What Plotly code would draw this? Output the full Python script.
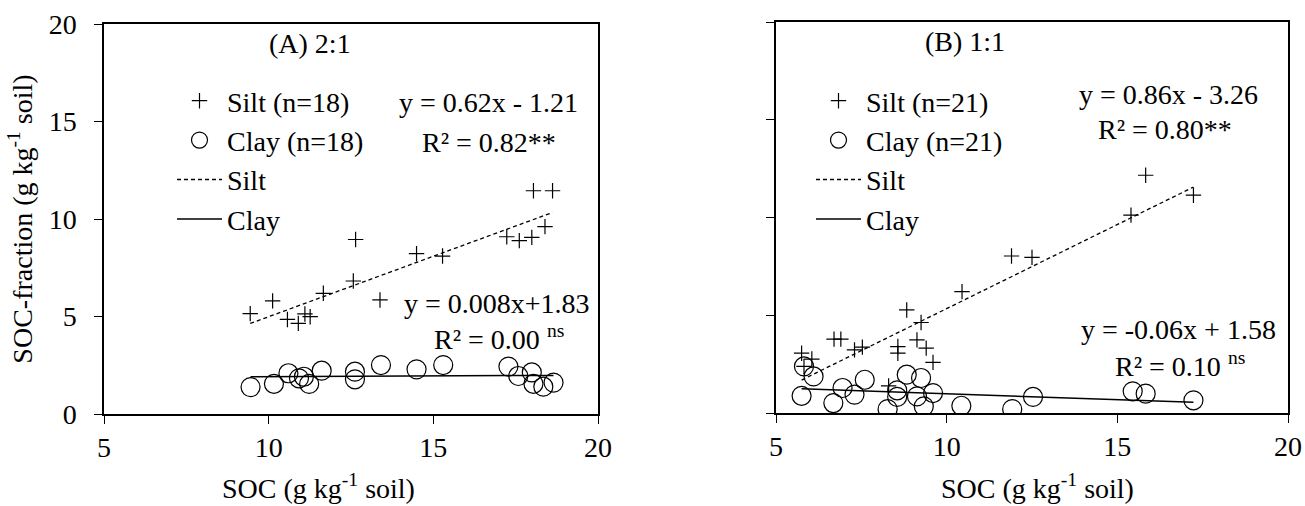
import plotly.graph_objects as go

# ---------------- data ----------------
# Panel A (2:1)
a_silt_x = [9.44, 10.12, 10.57, 10.90, 11.10, 11.26, 11.66, 12.57, 12.64, 13.38, 14.49, 15.28, 17.23, 17.61, 17.99, 18.39, 18.04, 18.62]
a_silt_y = [5.15, 5.80, 4.85, 4.65, 5.13, 4.99, 6.19, 6.82, 8.95, 5.85, 8.22, 8.10, 9.09, 8.89, 9.06, 9.61, 11.45, 11.45]
a_clay_x = [9.45, 10.16, 10.60, 10.92, 11.07, 11.23, 11.61, 12.62, 12.62, 13.41, 14.49, 15.30, 17.28, 17.58, 17.99, 18.04, 18.34, 18.65]
a_clay_y = [1.38, 1.55, 2.09, 1.83, 1.91, 1.54, 2.22, 2.17, 1.78, 2.51, 2.29, 2.51, 2.43, 1.95, 2.13, 1.55, 1.40, 1.61]

# Panel B (1:1)
b_silt_x = [5.75, 6.05, 5.82, 6.70, 6.90, 7.30, 7.53, 8.57, 8.57, 8.30, 8.83, 9.25, 9.13, 9.40, 9.60, 10.45, 11.90, 12.50, 15.40, 15.83, 17.23]
b_silt_y = [3.06, 2.76, 2.38, 3.78, 3.78, 3.23, 3.37, 3.40, 3.06, 1.39, 5.27, 4.63, 3.74, 3.32, 2.59, 6.21, 8.03, 7.96, 10.12, 12.16, 11.14]
b_clay_x = [5.75, 5.82, 6.10, 6.68, 6.95, 7.30, 7.60, 8.27, 8.55, 8.55, 8.83, 9.13, 9.25, 9.33, 9.60, 10.43, 11.92, 12.53, 15.45, 15.83, 17.23]
b_clay_y = [0.88, 2.38, 1.87, 0.51, 1.28, 0.94, 1.70, 0.20, 1.16, 0.82, 1.96, 0.85, 1.79, 0.34, 1.02, 0.37, 0.20, 0.82, 1.11, 0.99, 0.65]

# regression coefficients (slope, intercept) as printed
a_silt_fit = (0.62, -1.21)
a_clay_fit = (0.008, 1.83)
b_silt_fit = (0.86, -3.26)
b_clay_fit = (-0.06, 1.58)

x_ticks = [5, 10, 15, 20]
y_ticks = [0, 5, 10, 15, 20]

FONT = "Liberation Serif"
FS = 28
BLACK = "black"


def fit_line(xs, fit):
    lo, hi = min(xs), max(xs)
    return [lo, hi], [fit[0] * lo + fit[1], fit[0] * hi + fit[1]]


fig = go.Figure()


def add_panel(xs_s, ys_s, xs_c, ys_c, fs, fc, n, xa, ya, leg):
    fig.add_trace(go.Scatter(x=xs_s, y=ys_s, mode="markers", name=f"Silt (n={n})",
                             marker=dict(symbol="cross-thin-open", size=11, color=BLACK,
                                         line=dict(width=1.2, color=BLACK)),
                             xaxis=xa, yaxis=ya, legend=leg))
    fig.add_trace(go.Scatter(x=xs_c, y=ys_c, mode="markers", name=f"Clay (n={n})",
                             marker=dict(symbol="circle-open", size=19, color=BLACK,
                                         line=dict(width=1.2, color=BLACK)),
                             xaxis=xa, yaxis=ya, legend=leg))
    lx, ly = fit_line(xs_s, fs)
    fig.add_trace(go.Scatter(x=lx, y=ly, mode="lines", name="Silt",
                             line=dict(color=BLACK, width=1.3, dash="4px,3px"),
                             xaxis=xa, yaxis=ya, legend=leg))
    lx, ly = fit_line(xs_c, fc)
    fig.add_trace(go.Scatter(x=lx, y=ly, mode="lines", name="Clay",
                             line=dict(color=BLACK, width=1.5),
                             xaxis=xa, yaxis=ya, legend=leg))


add_panel(a_silt_x, a_silt_y, a_clay_x, a_clay_y, a_silt_fit, a_clay_fit, 18, "x", "y", "legend")
add_panel(b_silt_x, b_silt_y, b_clay_x, b_clay_y, b_silt_fit, b_clay_fit, 21, "x2", "y2", "legend2")

W, H = 1305, 506
axis_common = dict(showgrid=False, zeroline=False, showline=True, linecolor=BLACK, linewidth=1.5,
                   mirror=True, ticks="outside", ticklen=8, tickwidth=1.3, tickcolor=BLACK,
                   tickfont=dict(family=FONT, size=FS, color=BLACK), automargin=False,
                   ticklabeloverflow="allow")

fig.update_layout(
    width=W, height=H,
    margin=dict(l=0, r=0, t=0, b=0),
    paper_bgcolor="white", plot_bgcolor="white",
    font=dict(family=FONT, size=FS, color=BLACK),
    xaxis=dict(domain=[104 / W, 598 / W], range=[5, 20], tickvals=x_ticks, anchor="y", **axis_common),
    yaxis=dict(domain=[1 - 414 / H, 1 - 24 / H], range=[0, 20], tickvals=y_ticks, anchor="x",
               ticklabelposition="outside", ticklabelstandoff=12,
               title=dict(text="SOC-fraction (g kg<sup>-1</sup> soil)", font=dict(family=FONT, size=FS), standoff=8),
               **axis_common),
    xaxis2=dict(domain=[776 / W, 1288 / W], range=[5, 20], tickvals=x_ticks, anchor="y2", **axis_common),
    yaxis2=dict(domain=[1 - 413 / H, 1 - 22 / H], range=[0, 20], tickvals=y_ticks, anchor="x2",
                showticklabels=False, **axis_common),
    legend=dict(x=172 / W, y=1 - 76 / H, xanchor="left", yanchor="top", bgcolor="rgba(0,0,0,0)",
                font=dict(family=FONT, size=FS, color=BLACK), tracegroupgap=0, traceorder="normal",
                itemwidth=45),
    legend2=dict(x=811 / W, y=1 - 76 / H, xanchor="left", yanchor="top", bgcolor="rgba(0,0,0,0)",
                 font=dict(family=FONT, size=FS, color=BLACK), tracegroupgap=0, traceorder="normal",
                 itemwidth=45),
    showlegend=True,
)

# x-axis titles
xtitle = "SOC (g kg<sup>-1</sup> soil)"
fig.add_annotation(xref="x domain", yref="paper", x=(318 - 104) / 494, y=1 - 486 / H, text=xtitle,
                   showarrow=False, font=dict(family=FONT, size=FS, color=BLACK),
                   xanchor="center", yanchor="middle")
fig.add_annotation(xref="x2 domain", yref="paper", x=(1037 - 776) / 512, y=1 - 486 / H, text=xtitle,
                   showarrow=False, font=dict(family=FONT, size=FS, color=BLACK),
                   xanchor="center", yanchor="middle")

ann = [
    ("x", "y", 11.25, 19.0, "(A) 2:1"),
    ("x", "y", 16.66, 15.95, "y = 0.62x - 1.21"),
    ("x", "y", 16.7, 13.9, "R² = 0.82**"),
    ("x", "y", 16.93, 5.69, "y = 0.008x+1.83"),
    ("x", "y", 17.0, 3.9, "R² = 0.00 <sup>ns</sup>"),
    ("x2", "y2", 10.55, 19.0, "(B) 1:1"),
    ("x2", "y2", 16.49, 16.27, "y = 0.86x - 3.26"),
    ("x2", "y2", 16.4, 14.48, "R² = 0.80**"),
    ("x2", "y2", 16.78, 4.25, "y = -0.06x + 1.58"),
    ("x2", "y2", 16.85, 2.46, "R² = 0.10 <sup>ns</sup>"),
]
for xr, yr, ax, ay, t in ann:
    fig.add_annotation(xref=xr, yref=yr, x=ax, y=ay, text=t, showarrow=False,
                       font=dict(family=FONT, size=FS, color=BLACK), xanchor="center", yanchor="middle")

# the page's default body margin would shift the 1305x506 figure; remove it
fig.write_html("out.html", config={"displayModeBar": False},
               post_script="document.body.style.margin='0';")
